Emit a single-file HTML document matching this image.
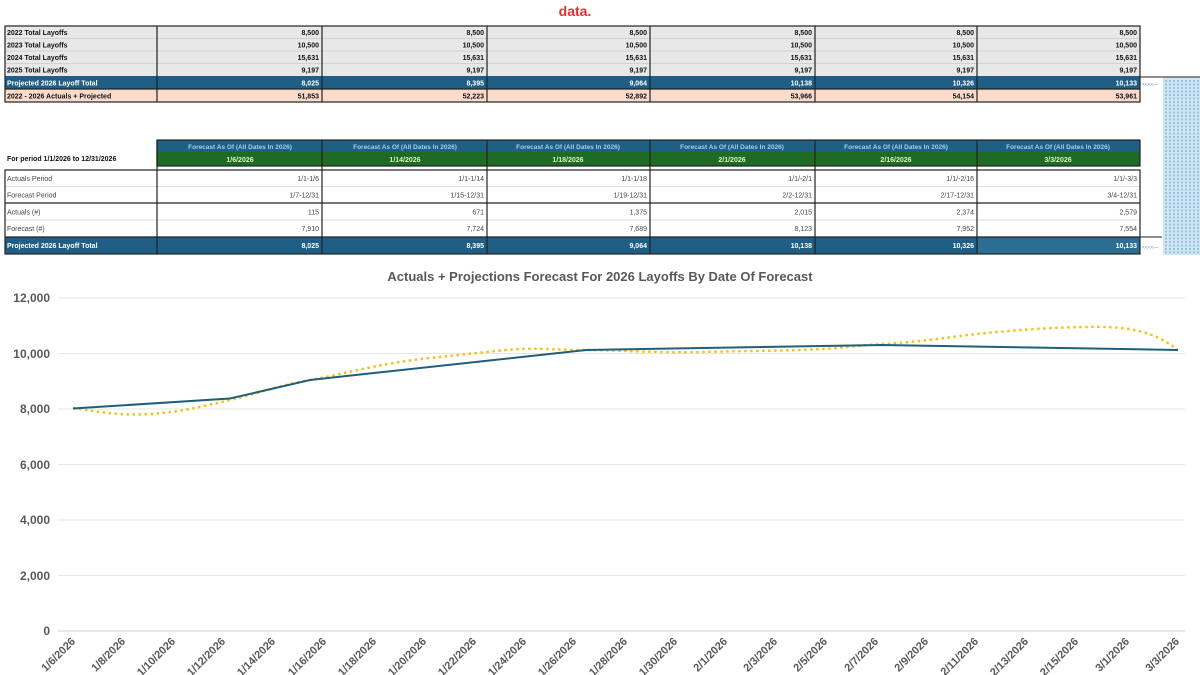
<!DOCTYPE html>
<html><head><meta charset="utf-8"><style>
body{margin:0;width:1200px;height:675px;overflow:hidden;background:#fff;font-family:"Liberation Sans",sans-serif}
svg{display:block}
</style></head><body>
<svg width="1200" height="675" viewBox="0 0 1200 675" font-family="Liberation Sans, sans-serif">
<text x="575" y="16" font-size="14" font-weight="bold" fill="#e03030" text-anchor="middle">data.</text>
<!-- top table -->
<g font-size="7" font-weight="bold">
<rect x="5" y="26" width="1135" height="50" fill="#e8e8e8"/>
<rect x="5" y="76" width="1135" height="13" fill="#1f5f86"/>
<rect x="5" y="89" width="1135" height="13" fill="#fbdccb"/>
<g stroke="#bbb" stroke-width="0.6"><line x1="5" y1="38.5" x2="1140" y2="38.5"/><line x1="5" y1="51" x2="1140" y2="51"/><line x1="5" y1="63.5" x2="1140" y2="63.5"/></g>
<g stroke="#222" stroke-width="1.2" fill="none">
<rect x="5" y="26" width="1135" height="76"/>
<line x1="5" y1="89" x2="1140" y2="89"/>
<line x1="157" y1="26" x2="157" y2="102"/><line x1="322" y1="26" x2="322" y2="102"/><line x1="487" y1="26" x2="487" y2="102"/><line x1="650" y1="26" x2="650" y2="102"/><line x1="815" y1="26" x2="815" y2="102"/><line x1="977" y1="26" x2="977" y2="102"/>
</g>
<g fill="#111"><text x="7" y="35">2022 Total Layoffs</text><text x="7" y="47.5">2023 Total Layoffs</text><text x="7" y="60">2024 Total Layoffs</text><text x="7" y="72.5">2025 Total Layoffs</text><text x="7" y="98.5">2022 - 2026 Actuals + Projected</text></g>
<text x="7" y="85.5" fill="#fff">Projected 2026 Layoff Total</text>
<g text-anchor="end" fill="#111">
<text x="319" y="35">8,500</text><text x="484" y="35">8,500</text><text x="647" y="35">8,500</text><text x="812" y="35">8,500</text><text x="974" y="35">8,500</text><text x="1137" y="35">8,500</text>
<text x="319" y="47.5">10,500</text><text x="484" y="47.5">10,500</text><text x="647" y="47.5">10,500</text><text x="812" y="47.5">10,500</text><text x="974" y="47.5">10,500</text><text x="1137" y="47.5">10,500</text>
<text x="319" y="60">15,631</text><text x="484" y="60">15,631</text><text x="647" y="60">15,631</text><text x="812" y="60">15,631</text><text x="974" y="60">15,631</text><text x="1137" y="60">15,631</text>
<text x="319" y="72.5">9,197</text><text x="484" y="72.5">9,197</text><text x="647" y="72.5">9,197</text><text x="812" y="72.5">9,197</text><text x="974" y="72.5">9,197</text><text x="1137" y="72.5">9,197</text>
<text x="319" y="98.5">51,853</text><text x="484" y="98.5">52,223</text><text x="647" y="98.5">52,892</text><text x="812" y="98.5">53,966</text><text x="974" y="98.5">54,154</text><text x="1137" y="98.5">53,961</text>
</g>
<g text-anchor="end" fill="#fff">
<text x="319" y="85.5">8,025</text><text x="484" y="85.5">8,395</text><text x="647" y="85.5">9,064</text><text x="812" y="85.5">10,138</text><text x="974" y="85.5">10,326</text><text x="1137" y="85.5">10,133</text>
</g>
</g>
<!-- side dotted column -->
<rect x="1163" y="77" width="37" height="178" fill="#cfe6f3"/>
<g stroke="#4a8fc0" stroke-width="0.8" stroke-dasharray="2,1.5">
<line x1="1166" y1="80" x2="1166" y2="254"/><line x1="1170" y1="80" x2="1170" y2="254"/><line x1="1174" y1="80" x2="1174" y2="254"/><line x1="1178" y1="80" x2="1178" y2="254"/><line x1="1182" y1="80" x2="1182" y2="254"/><line x1="1186" y1="80" x2="1186" y2="254"/><line x1="1190" y1="80" x2="1190" y2="254"/><line x1="1194" y1="80" x2="1194" y2="254"/><line x1="1198" y1="80" x2="1198" y2="254"/>
</g>
<g stroke="#222" stroke-width="1"><line x1="1140" y1="77" x2="1200" y2="77"/><line x1="1140" y1="237" x2="1162" y2="237"/></g>
<text x="1142" y="86" font-size="5" fill="#5b9bc8">&lt;&lt;&lt;&lt;—</text>
<text x="1142" y="249" font-size="5" fill="#5b9bc8">&lt;&lt;&lt;&lt;—</text>
<!-- second table -->
<g font-size="7" font-weight="bold">
<text x="7" y="161" fill="#111">For period 1/1/2026 to 12/31/2026</text>
<rect x="157" y="140" width="983" height="12" fill="#1f5f86"/>
<rect x="157" y="152" width="983" height="14" fill="#1e6b26"/>
<rect x="5" y="237" width="1135" height="17" fill="#1f5f86"/>
<rect x="977" y="237" width="163" height="17" fill="#2a6f93"/>
<g stroke="#bbb" stroke-width="0.6"><line x1="5" y1="186.5" x2="1140" y2="186.5"/><line x1="5" y1="220" x2="1140" y2="220"/></g>
<g stroke="#222" stroke-width="1.2" fill="none">
<rect x="157" y="140" width="983" height="26"/>
<rect x="5" y="170" width="1135" height="84"/>
<line x1="5" y1="203" x2="1140" y2="203"/><line x1="5" y1="237" x2="1140" y2="237"/>
<line x1="157" y1="140" x2="157" y2="254"/><line x1="322" y1="140" x2="322" y2="254"/><line x1="487" y1="140" x2="487" y2="254"/><line x1="650" y1="140" x2="650" y2="254"/><line x1="815" y1="140" x2="815" y2="254"/><line x1="977" y1="140" x2="977" y2="254"/>
</g>
<g fill="#9fd0ee" text-anchor="middle" font-size="6.5">
<text x="240" y="149">Forecast As Of (All Dates In 2026)</text><text x="405" y="149">Forecast As Of (All Dates In 2026)</text><text x="568" y="149">Forecast As Of (All Dates In 2026)</text><text x="732" y="149">Forecast As Of (All Dates In 2026)</text><text x="896" y="149">Forecast As Of (All Dates In 2026)</text><text x="1058" y="149">Forecast As Of (All Dates In 2026)</text>
</g>
<g fill="#d8f5b8" text-anchor="middle">
<text x="240" y="162">1/6/2026</text><text x="405" y="162">1/14/2026</text><text x="568" y="162">1/18/2026</text><text x="732" y="162">2/1/2026</text><text x="896" y="162">2/16/2026</text><text x="1058" y="162">3/3/2026</text>
</g>
</g>
<g font-size="7" fill="#444">
<text x="7" y="181">Actuals Period</text><text x="7" y="197.5">Forecast Period</text><text x="7" y="214.5">Actuals (#)</text><text x="7" y="231">Forecast (#)</text>
<g text-anchor="end">
<text x="319" y="181">1/1-1/6</text><text x="484" y="181">1/1-1/14</text><text x="647" y="181">1/1-1/18</text><text x="812" y="181">1/1/-2/1</text><text x="974" y="181">1/1/-2/16</text><text x="1137" y="181">1/1/-3/3</text>
<text x="319" y="197.5">1/7-12/31</text><text x="484" y="197.5">1/15-12/31</text><text x="647" y="197.5">1/19-12/31</text><text x="812" y="197.5">2/2-12/31</text><text x="974" y="197.5">2/17-12/31</text><text x="1137" y="197.5">3/4-12/31</text>
<text x="319" y="214.5">115</text><text x="484" y="214.5">671</text><text x="647" y="214.5">1,375</text><text x="812" y="214.5">2,015</text><text x="974" y="214.5">2,374</text><text x="1137" y="214.5">2,579</text>
<text x="319" y="231">7,910</text><text x="484" y="231">7,724</text><text x="647" y="231">7,689</text><text x="812" y="231">8,123</text><text x="974" y="231">7,952</text><text x="1137" y="231">7,554</text>
</g>
</g>
<g font-size="7" font-weight="bold" fill="#fff">
<text x="7" y="248">Projected 2026 Layoff Total</text>
<g text-anchor="end"><text x="319" y="248">8,025</text><text x="484" y="248">8,395</text><text x="647" y="248">9,064</text><text x="812" y="248">10,138</text><text x="974" y="248">10,326</text><text x="1137" y="248">10,133</text></g>
</g>
<!-- chart -->
<text x="600" y="281" font-size="13" font-weight="bold" fill="#595959" text-anchor="middle">Actuals + Projections Forecast For 2026 Layoffs By Date Of Forecast</text>
<g stroke="#e6e6e6" stroke-width="1">
<line x1="58" y1="298" x2="1185" y2="298"/><line x1="58" y1="353.5" x2="1185" y2="353.5"/><line x1="58" y1="409" x2="1185" y2="409"/><line x1="58" y1="464.5" x2="1185" y2="464.5"/><line x1="58" y1="520" x2="1185" y2="520"/><line x1="58" y1="575.5" x2="1185" y2="575.5"/>
</g>
<line x1="58" y1="631" x2="1185" y2="631" stroke="#d0d0d0"/>
<g font-size="12" font-weight="bold" fill="#595959" text-anchor="end">
<text x="50" y="302">12,000</text><text x="50" y="358">10,000</text><text x="50" y="413">8,000</text><text x="50" y="469">6,000</text><text x="50" y="524">4,000</text><text x="50" y="580">2,000</text><text x="50" y="635">0</text>
</g>
<path d="M73,408 C100,412 120,416 150,414 S200,407 230,400 S280,385 310,380 S380,363 430,358 S500,350 520,349 S560,350 586,350 S660,353 700,352 S760,351 800,350 S860,345 882,344 S930,340 960,336 S1040,328 1080,327 S1150,328 1178,350" fill="none" stroke="#f2c21b" stroke-width="2.5" stroke-dasharray="2.5,3.5"/>
<polyline points="73,408.5 230,398.5 310,380 586,350 882,345 1178,350" fill="none" stroke="#1f5f7a" stroke-width="2"/>
<g font-size="11" font-weight="bold" fill="#595959" text-anchor="end">
<text transform="translate(76,642) rotate(-45)">1/6/2026</text>
<text transform="translate(126,642) rotate(-45)">1/8/2026</text>
<text transform="translate(176,642) rotate(-45)">1/10/2026</text>
<text transform="translate(226,642) rotate(-45)">1/12/2026</text>
<text transform="translate(276,642) rotate(-45)">1/14/2026</text>
<text transform="translate(327,642) rotate(-45)">1/16/2026</text>
<text transform="translate(377,642) rotate(-45)">1/18/2026</text>
<text transform="translate(427,642) rotate(-45)">1/20/2026</text>
<text transform="translate(477,642) rotate(-45)">1/22/2026</text>
<text transform="translate(527,642) rotate(-45)">1/24/2026</text>
<text transform="translate(577,642) rotate(-45)">1/26/2026</text>
<text transform="translate(628,642) rotate(-45)">1/28/2026</text>
<text transform="translate(678,642) rotate(-45)">1/30/2026</text>
<text transform="translate(728,642) rotate(-45)">2/1/2026</text>
<text transform="translate(778,642) rotate(-45)">2/3/2026</text>
<text transform="translate(828,642) rotate(-45)">2/5/2026</text>
<text transform="translate(879,642) rotate(-45)">2/7/2026</text>
<text transform="translate(929,642) rotate(-45)">2/9/2026</text>
<text transform="translate(979,642) rotate(-45)">2/11/2026</text>
<text transform="translate(1029,642) rotate(-45)">2/13/2026</text>
<text transform="translate(1079,642) rotate(-45)">2/15/2026</text>
<text transform="translate(1130,642) rotate(-45)">3/1/2026</text>
<text transform="translate(1180,642) rotate(-45)">3/3/2026</text>
</g>
</svg>
</body></html>
